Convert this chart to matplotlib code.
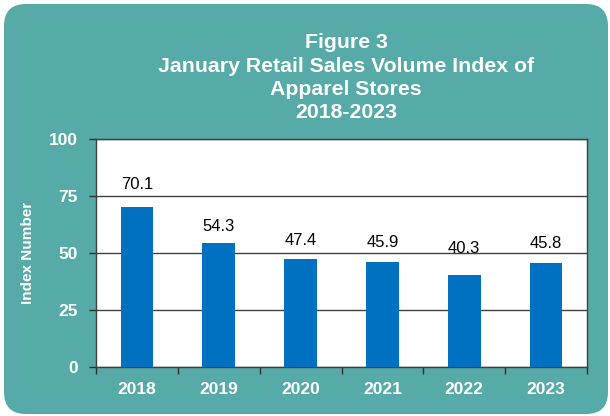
import matplotlib
matplotlib.use("Agg")
import matplotlib.pyplot as plt
from matplotlib.patches import FancyBboxPatch
from matplotlib.ticker import FixedLocator

plt.rcParams['font.family'] = ['Liberation Sans', 'DejaVu Sans']

years = ["2018", "2019", "2020", "2021", "2022", "2023"]
values = [70.1, 54.3, 47.4, 45.9, 40.3, 45.8]
label_offsets_pt = [11.2, 6.8, 7.6, 9, 14, 8.3]  # layout: label offset above bar (points)
yticks = [0, 25, 50, 75, 100]
title = "Figure 3\nJanuary Retail Sales Volume Index of\nApparel Stores\n2018-2023"
ylabel = "Index Number"

teal = "#56AAA8"
bar_color = "#0070C0"

fig = plt.figure(figsize=(6.1, 4.16), dpi=100)
fig.patch.set_facecolor("white")

bg = FancyBboxPatch((0.04, 0.02), 6.04, 4.10,
                    boxstyle="round,pad=0,rounding_size=0.22",
                    transform=fig.dpi_scale_trans, facecolor=teal,
                    edgecolor="none", zorder=-10)
fig.patches.append(bg)

ax = fig.add_axes([96/610, 1-367/416, (587-96)/610, (367-139)/416])
ax.set_zorder(1)
ax.set_facecolor("white")

x = list(range(len(years)))
ax.bar(x, values, width=0.4, color=bar_color, zorder=3)
for xi, v, off in zip(x, values, label_offsets_pt):
    ax.annotate(f"{v:.1f}", (xi, v), xytext=(0, off), textcoords="offset points",
                ha="center", va="bottom", fontsize=12, color="black", zorder=4)

ax.set_xlim(-0.5, len(years) - 0.5)
ax.set_ylim(0, 100)
ax.set_yticks(yticks)
ax.set_yticklabels([str(t) for t in yticks], fontsize=12.5, fontweight="bold", color="white")
ax.yaxis.grid(True, color="#404040", linewidth=1.0, zorder=1)
ax.set_axisbelow(True)

ax.xaxis.set_major_locator(FixedLocator([i - 0.5 for i in range(len(years) + 1)]))
ax.xaxis.set_major_formatter(plt.NullFormatter())
ax.xaxis.set_minor_locator(FixedLocator(x))
ax.set_xticklabels(years, minor=True, fontsize=12.5, fontweight="bold", color="white")
ax.tick_params(axis="x", which="minor", length=0, pad=11)
ax.tick_params(axis="x", which="major", length=5, width=1, color="#303030", direction="out")
ax.tick_params(axis="y", length=5, width=1, color="#303030", direction="out", pad=8)

for s in ax.spines.values():
    s.set_color("#404040")
    s.set_linewidth(1.0)

fig.text(346/610, 1-33/416, title, ha="center", va="top", fontsize=15.3,
         fontweight="bold", color="white", linespacing=1.3)
fig.text(28/610, 1-253/416, ylabel, rotation=90, ha="center", va="center",
         fontsize=11, fontweight="bold", color="white")

fig.savefig("out.png", dpi=100, facecolor="white")
